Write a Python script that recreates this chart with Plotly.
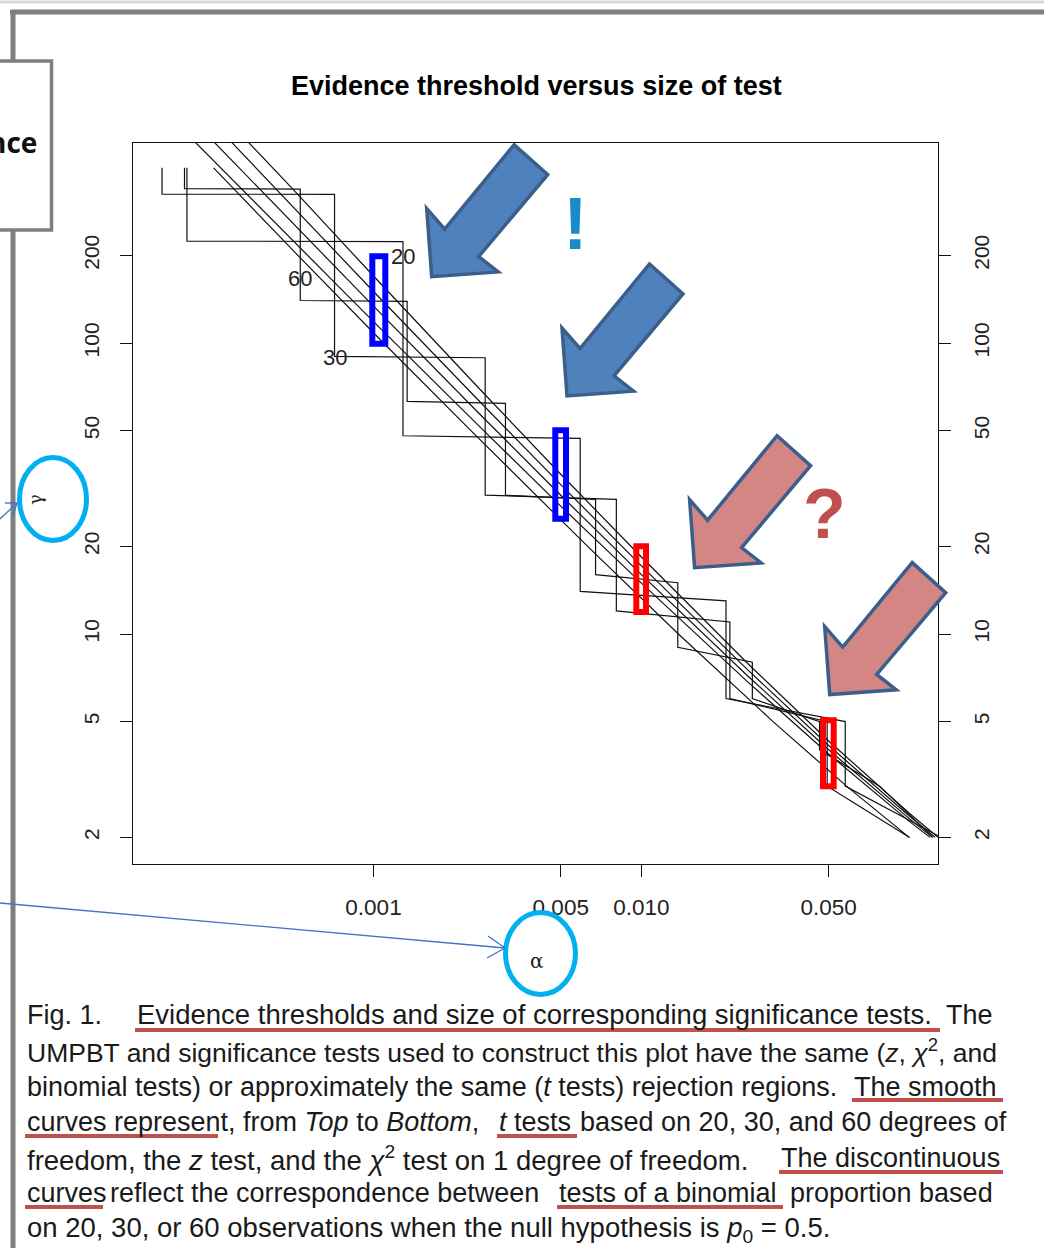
import plotly.graph_objects as go

# ---------------- data ----------------
x_tick_vals = [0.001, 0.005, 0.01, 0.05]
x_tick_text = ["0.001", "0.005", "0.010", "0.050"]
y_tick_vals = [2, 5, 10, 20, 50, 100, 200]
y_tick_text = ["2", "5", "10", "20", "50", "100", "200"]

# smooth curves: size of test (alpha) vs evidence threshold (gamma)
t20_alpha = [0.0002, 0.0005, 0.001, 0.0025, 0.005, 0.01, 0.025, 0.05, 0.1, 0.128]
t20_gamma = [822, 337.8, 169.9, 69.2, 35.4, 18.39, 7.90, 4.29, 2.42, 2.0]
t30_alpha = [0.0002, 0.0005, 0.001, 0.0025, 0.005, 0.01, 0.025, 0.05, 0.1, 0.125]
t30_gamma = [714, 294.6, 150.3, 62.7, 32.6, 17.15, 7.51, 4.14, 2.37, 2.0]
t60_alpha = [0.0002, 0.0005, 0.001, 0.0025, 0.005, 0.01, 0.025, 0.05, 0.1, 0.122]
t60_gamma = [615, 256.9, 133.8, 56.8, 29.97, 16.0, 7.16, 4.00, 2.32, 2.0]
z_alpha = [0.0002, 0.0005, 0.001, 0.0025, 0.005, 0.01, 0.025, 0.05, 0.1, 0.1195]
z_gamma = [526, 224.7, 118.4, 51.4, 27.5, 14.96, 6.83, 3.87, 2.27, 2.0]
chi2_alpha = [0.000253, 0.000522, 0.00109, 0.00231, 0.0063, 0.01374, 0.031, 0.0583, 0.0999]
chi2_gamma = [400, 200, 100, 50, 20, 10, 5, 3, 2]

# discontinuous (binomial) curves: size of each rejection region and the
# range of gamma over which it applies
bin20_alpha = [0.0002012, 0.0012884, 0.005909, 0.020695, 0.05766, 0.13159]
bin20_g_hi = [400, 223, 47, 13, 5, 2]
bin20_g_lo = [224, 48, 14, 6, 3, 2]
bin30_alpha = [0.00016246, 0.00071545, 0.0026114, 0.0080624, 0.021387, 0.049369, 0.100244]
bin30_g_hi = [400, 324, 89, 29, 11, 5, 2]
bin30_g_lo = [325, 90, 30, 12, 6, 3, 2]
bin60_alpha = [0.00019703, 0.0005329, 0.0013352, 0.0031088, 0.0067448, 0.01367,
               0.025947, 0.046231, 0.077502, 0.12253]
bin60_g_hi = [400, 338, 139, 62, 29, 15, 8, 5, 3, 2]
bin60_g_lo = [339, 140, 63, 30, 16, 9, 6, 4, 3, 2]

# ---------------- geometry helpers ----------------
W, H = 1044, 1248
PL, PR, PT, PB = 133, 938, 143, 864


def px(x):
    return (x - PL) / (PR - PL)


def py(y):
    return (PB - y) / (PB - PT)


def steps(alpha, hi, lo):
    xs, ys = [], []
    for a, h, l in zip(alpha, hi, lo):
        xs += [a, a]
        ys += [h, l]
    return xs, ys


fig = go.Figure()
curve_line = dict(color="#111111", width=1.2)
for a, g in [(t20_alpha, t20_gamma), (t30_alpha, t30_gamma), (t60_alpha, t60_gamma),
             (z_alpha, z_gamma), (chi2_alpha, chi2_gamma)]:
    fig.add_trace(go.Scatter(x=a, y=g, mode="lines", line=curve_line,
                             showlegend=False, hoverinfo="skip"))
for a, hi, lo in [(bin20_alpha, bin20_g_hi, bin20_g_lo),
                  (bin30_alpha, bin30_g_hi, bin30_g_lo),
                  (bin60_alpha, bin60_g_hi, bin60_g_lo)]:
    xs, ys = steps(a, hi, lo)
    fig.add_trace(go.Scatter(x=xs, y=ys, mode="lines", line=curve_line,
                             showlegend=False, hoverinfo="skip"))
# invisible trace to activate the right-hand axis
fig.add_trace(go.Scatter(x=z_alpha, y=z_gamma, yaxis="y2", mode="lines",
                         opacity=0, showlegend=False, hoverinfo="skip"))

xtickfont = dict(family="Liberation Sans, Arial", size=22.5, color="#222")
ytickfont = dict(family="Liberation Sans, Arial", size=21, color="#222")
yaxis_common = dict(type="log", range=[0.2096, 2.6873], tickvals=y_tick_vals,
                    ticktext=y_tick_text, tickangle=-90, ticks="outside", ticklen=12,
                    tickcolor="#111", tickwidth=1, showgrid=False, zeroline=False,
                    tickfont=ytickfont, ticklabelstandoff=13)
fig.update_layout(
    width=W, height=H,
    margin=dict(l=PL, r=W - PR, t=PT, b=H - PB, pad=0),
    paper_bgcolor="white", plot_bgcolor="white",
    xaxis=dict(type="log", range=[-3.8977, -0.8929], tickvals=x_tick_vals,
               ticktext=x_tick_text, ticks="outside", ticklen=12, tickcolor="#111",
               showgrid=False, zeroline=False, showline=True, linecolor="#111",
               linewidth=1, mirror=True, tickfont=xtickfont, ticklabelstandoff=11),
    yaxis=dict(**yaxis_common, showline=True, linecolor="#111", linewidth=1, mirror=True),
    yaxis2=dict(**yaxis_common, overlaying="y", side="right", anchor="x",
                showline=True, linecolor="#111", linewidth=1),
)

shapes = []
ann = []

# slide frame
shapes.append(dict(type="line", xref="paper", yref="paper", x0=px(0), x1=px(W),
                   y0=py(2), y1=py(2), line=dict(color="#D9D9D9", width=3)))
shapes.append(dict(type="line", xref="paper", yref="paper", x0=px(10), x1=px(W),
                   y0=py(12), y1=py(12), line=dict(color="#7F7F7F", width=5)))
shapes.append(dict(type="line", xref="paper", yref="paper", x0=px(13), x1=px(13),
                   y0=py(10), y1=py(H), line=dict(color="#7F7F7F", width=5)))
shapes.append(dict(type="rect", xref="paper", yref="paper", x0=px(-5), x1=px(51.5),
                   y0=py(61), y1=py(230), fillcolor="white",
                   line=dict(color="#7F7F7F", width=3.5)))
ann.append(dict(text="<b>nce</b>", x=px(39), y=py(142), xanchor="right", yanchor="middle",
                font=dict(family="Open Sans", size=28, color="#111")))

# title
ann.append(dict(text="<b>Evidence threshold versus size of test</b>", x=px(536), y=py(86),
                xanchor="center", yanchor="middle",
                font=dict(family="Liberation Sans, Arial", size=27, color="#000")))

# curve labels
for t, x, y in [("20", 403, 256), ("60", 300, 278), ("30", 335, 357)]:
    ann.append(dict(text=t, x=px(x), y=py(y), xanchor="center", yanchor="middle",
                    font=dict(family="Liberation Sans, Arial", size=22, color="#222")))

# highlight rectangles
for (x0, x1, y0, y1, c) in [(372.3, 385.3, 256.3, 343.7, "#0000FF"),
                            (555.3, 566.0, 430.3, 518.7, "#0000FF"),
                            (636.3, 646.0, 546.3, 612.0, "#FF0000"),
                            (823.0, 833.7, 720.3, 786.3, "#FF0000")]:
    shapes.append(dict(type="rect", xref="paper", yref="paper", x0=px(x0), x1=px(x1),
                       y0=py(y1), y1=py(y0), line=dict(color=c, width=6)))

# block arrows
arrow_tpl = [(0, 0), (-5, -68), (13, -47.5), (82.5, -132), (116, -102), (47, -20.2), (66.5, -4.8)]
for (tx, ty, fill) in [(431.7, 276.7, "#4F81BD"), (567, 396, "#4F81BD"),
                       (694.6, 567.7, "#D38683"), (829.7, 694.6, "#D38683")]:
    pts = [(px(tx + dx), py(ty + dy)) for dx, dy in arrow_tpl]
    path = "M " + " L ".join(f"{a:.5f},{b:.5f}" for a, b in pts) + " Z"
    shapes.append(dict(type="path", xref="paper", yref="paper", path=path,
                       fillcolor=fill, line=dict(color="#3A5F8B", width=3.5)))

ann.append(dict(text="<b>!</b>", x=px(575), y=py(224), xanchor="center", yanchor="middle",
                font=dict(family="Liberation Sans, Arial", size=74, color="#1A8BC9")))
ann.append(dict(text="<b>?</b>", x=px(824), y=py(514), xanchor="center", yanchor="middle",
                font=dict(family="Liberation Sans, Arial", size=70, color="#C0504D")))

# axis-name ellipses and pointer lines
shapes.append(dict(type="circle", xref="paper", yref="paper", x0=px(19.5), x1=px(86.5),
                   y0=py(540.5), y1=py(457.5), line=dict(color="#00B0F0", width=5)))
shapes.append(dict(type="circle", xref="paper", yref="paper", x0=px(505.5), x1=px(575.5),
                   y0=py(994.5), y1=py(912.5), line=dict(color="#00B0F0", width=5)))
ann.append(dict(text="γ", x=px(35), y=py(500), xanchor="center", yanchor="middle",
                textangle=-90, font=dict(family="DejaVu Serif", size=18, color="#222")))
ann.append(dict(text="α", x=px(537), y=py(961), xanchor="center", yanchor="middle",
                font=dict(family="DejaVu Serif", size=20, color="#222")))
thin = dict(color="#4472C4", width=1.3)
for (x0, y0, x1, y1) in [(0, 903, 505, 948), (488, 936, 505, 948), (487, 958, 505, 948),
                         (0, 519, 17, 503), (5, 503, 17, 503), (13, 516, 17, 503)]:
    shapes.append(dict(type="line", xref="paper", yref="paper", x0=px(x0), x1=px(x1),
                       y0=py(y0), y1=py(y1), line=thin))

# caption
CAP = "Liberation Sans, Arial"
segs = [
    ("Fig. 1.", 25, 1015, "left", 27),
    ("Evidence thresholds and size of corresponding significance tests.", 135, 1015, "left", 27.5),
    ("The", 995, 1015, "right", 27),
    ("UMPBT and significance tests used to construct this plot have the same (<i>z</i>, <i>χ</i><sup>2</sup>, and",
     25, 1051, "left", 26.5),
    ("binomial tests) or approximately the same (<i>t</i> tests) rejection regions.", 25, 1087, "left", 27),
    ("The smooth", 852, 1087, "left", 27),
    ("curves represent, from <i>Top</i> to <i>Bottom</i>,", 25, 1122, "left", 27),
    ("<i>t</i> tests", 497, 1122, "left", 27),
    ("based on 20, 30, and 60 degrees of", 578, 1122, "left", 27),
    ("freedom, the <i>z</i> test, and the <i>χ</i><sup>2</sup> test on 1 degree of freedom.", 25, 1158, "left", 27.5),
    ("The discontinuous", 779, 1158, "left", 27),
    ("curves", 25, 1193, "left", 27),
    ("reflect the correspondence between", 108, 1193, "left", 27),
    ("tests of a binomial", 557, 1193, "left", 27),
    ("proportion based", 995, 1193, "right", 27),
    ("on 20, 30, or 60 observations when the null hypothesis is <i>p</i><sub>0</sub> = 0.5.", 25, 1229, "left", 27.5),
]
for t, x, y, anc, sz in segs:
    ann.append(dict(text=t, x=px(x), y=py(y), xanchor=anc, yanchor="middle",
                    font=dict(family=CAP, size=sz, color="#1a1a1a")))

for (x0, x1, y) in [(135, 940, 1030), (852, 1003, 1100), (25, 218, 1136), (497, 577, 1136),
                    (779, 1003, 1172), (25, 103, 1207), (557, 783, 1207)]:
    shapes.append(dict(type="line", xref="paper", yref="paper", x0=px(x0), x1=px(x1),
                       y0=py(y), y1=py(y), line=dict(color="#C0504D", width=4)))

for a in ann:
    a.update(xref="paper", yref="paper", showarrow=False)
fig.update_layout(shapes=shapes, annotations=ann)
fig.write_html("out.html", config={"displayModeBar": False},
               post_script="document.body.style.margin='0px';document.body.style.padding='0px';document.body.style.overflow='hidden';")
